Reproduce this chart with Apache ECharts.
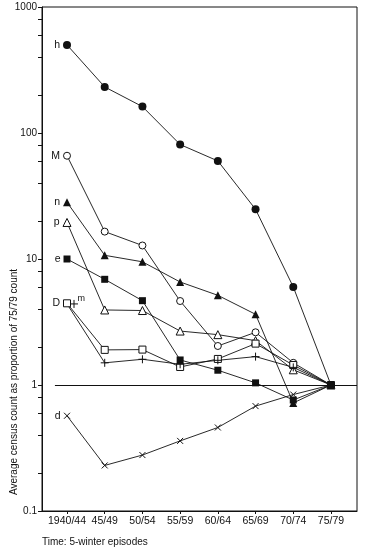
<!DOCTYPE html>
<html>
<head>
<meta charset="utf-8">
<script src="https://cdn.jsdelivr.net/npm/echarts@6/dist/echarts.min.js"></script>
<style>
html,body{margin:0;padding:0;background:#fff;}
#chart{width:370px;height:549px;}
</style>
</head>
<body>
<div id="chart"></div>
<script>
const categories = ['1940/44','45/49','50/54','55/59','60/64','65/69','70/74','75/79'];
const yTickLabels = [0.1, 1, 10, 100, 1000];
const yMinorTicks = [0.2,0.4,0.6,0.8,2,4,6,8,20,40,60,80,200,400,600,800];
const h = [500, 232, 162, 81, 60, 24.8, 6.0, 1];
const M = [66, 16.5, 12.8, 4.64, 2.04, 2.62, 1.50, 1];
const n = [28.2, 10.7, 9.5, 6.57, 5.15, 3.64, 0.72, 1];
const p = [19.5, 3.94, 3.9, 2.68, 2.51, 2.25, 1.32, 1];
const e = [10, 6.9, 4.67, 1.58, 1.31, 1.04, 0.76, 1];
const D = [4.45, 1.90, 1.91, 1.39, 1.61, 2.13, 1.44, 1];
const m = [4.4, 1.50, 1.60, 1.46, 1.57, 1.68, 1.38, 1];
const d = [0.57, 0.23, 0.278, 0.36, 0.46, 0.68, 0.84, 1];
const referenceValue = 1;

const FONT = '"Liberation Sans", Arial, sans-serif';
const INK = '#111';
const PLUS = 'path://M0,5L10,5M5,0L5,10';
const CROSS = 'path://M0,0L10,10M10,0L0,10';

function mk(name, values, symbol, size, filled, labelText, opts) {
  opts = opts || {};
  const data = values.map((v, i) => {
    const item = { value: [i, v] };
    if (i === 0) {
      item.label = Object.assign({
        show: true, position: 'left', distance: 3, formatter: labelText,
        color: INK, fontFamily: FONT, fontSize: 10.5
      }, opts.label || {});
      if (opts.firstOffset) item.symbolOffset = opts.firstOffset;
    }
    return item;
  });
  const line = symbol.startsWith('path://');
  return {
    name: name, type: 'line', data: data,
    symbol: symbol, symbolSize: size, showAllSymbol: true,
    lineStyle: { color: INK, width: 0.9 },
    itemStyle: {
      color: line ? 'rgba(0,0,0,0)' : (filled ? INK : '#fff'),
      borderColor: INK, borderWidth: line ? 1 : (filled ? 0 : 1)
    },
    emphasis: { disabled: true },
    z: opts.z || 2,
    animation: false
  };
}

const series = [
  mk('h', h, 'circle', 8, true, 'h'),
  mk('M', M, 'circle', 7, false, 'M'),
  mk('n', n, 'triangle', 8, true, 'n'),
  mk('p', p, 'triangle', 8, false, 'p'),
  mk('e', e, 'rect', 7, true, 'e'),
  mk('D', D, 'rect', 7, false, 'D'),
  mk('m', m, PLUS, 8, false, 'm', { firstOffset: [7, 0], label: { position: 'right', distance: 0, offset: [-1, -5], fontSize: 9 } }),
  mk('d', d, CROSS, 6, false, 'd')
];
series[0].z = 5;
series.push({
  type: 'line', data: [], silent: true,
  markLine: {
    silent: true, symbol: ['none','none'], label: { show: false },
    lineStyle: { color: INK, width: 1, type: 'solid' },
    data: [[{ coord: [-0.32, referenceValue] }, { coord: [7.69, referenceValue] }]]
  }
});

const chart = echarts.init(document.getElementById('chart'), null, { renderer: 'canvas' });
chart.setOption({
  backgroundColor: '#fff',
  animation: false,
  grid: { left: 42, right: 13, top: 7, bottom: 38, containLabel: false, show: true, borderColor: INK, borderWidth: 1, backgroundColor: 'transparent' },
  xAxis: {
    type: 'value', min: -0.663, max: 7.69,
    axisLine: { show: true, onZero: false, lineStyle: { color: INK, width: 1 } },
    axisTick: { show: true, length: 3, inside: false, customValues: categories.map((c, i) => i), lineStyle: { color: INK } },
    axisLabel: { customValues: categories.map((c, i) => i), formatter: v => categories[Math.round(v)] || '', color: INK, fontFamily: FONT, fontSize: 10.5, margin: 5 },
    splitLine: { show: false }
  },
  yAxis: {
    type: 'log', logBase: 10, min: 0.1, max: 1000,
    axisLine: { show: true, onZero: false, lineStyle: { color: INK, width: 1 } },
    axisTick: { show: true, length: 4, customValues: yTickLabels.concat(yMinorTicks), lineStyle: { color: INK } },
    axisLabel: { customValues: yTickLabels, formatter: v => String(v), color: INK, fontFamily: FONT, fontSize: 10, margin: 5 },
    splitLine: { show: false }
  },
  graphic: [
    { type: 'text', x: 14, y: 382, rotation: Math.PI / 2,
      style: { text: 'Average census count as proportion of 75/79 count', fill: INK, font: '10px ' + FONT, align: 'center', verticalAlign: 'middle' } },
    { type: 'text', x: 42, y: 542,
      style: { text: 'Time: 5-winter episodes', fill: INK, font: '10px ' + FONT, align: 'left', verticalAlign: 'middle' } }
  ],
  series: series
});
</script>
</body>
</html>
